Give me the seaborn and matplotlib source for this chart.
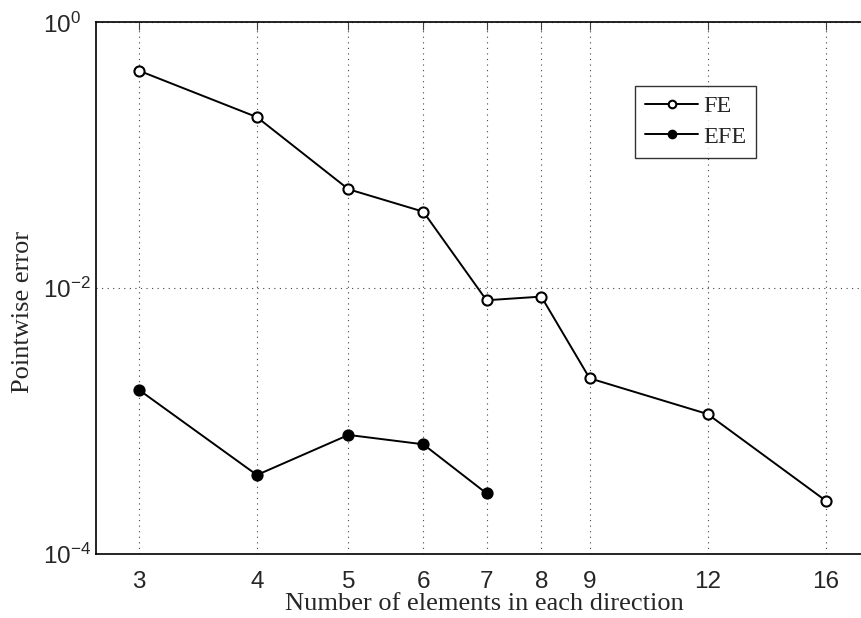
import numpy as np
import pandas as pd
import matplotlib
matplotlib.use("Agg")
import matplotlib.pyplot as plt
from matplotlib.ticker import FixedLocator, FixedFormatter, NullLocator, LogFormatterSciNotation
import seaborn as sns

# data
n_fe = [3, 4, 5, 6, 7, 8, 9, 12, 16]
err_fe = [0.434, 0.194, 0.0556, 0.0377, 0.00812, 0.00865, 0.00210, 0.00113, 0.000252]
n_efe = [3, 4, 5, 6, 7]
err_efe = [0.00172, 0.000393, 0.000787, 0.000669, 0.000286]
xtick_vals = [3, 4, 5, 6, 7, 8, 9, 12, 16]
ytick_vals = [1e-4, 1e-2, 1e0]

sns.set_style("white")
plt.rcParams['font.family'] = ['Liberation Sans', 'DejaVu Sans']
plt.rcParams['mathtext.fontset'] = 'custom'
plt.rcParams['mathtext.rm'] = 'Liberation Sans'
plt.rcParams['mathtext.it'] = 'Liberation Sans:italic'

serif = ['Liberation Serif', 'DejaVu Serif']

fig = plt.figure(figsize=(8.61, 6.18), dpi=100)
ax = fig.add_axes([0.1111, 0.1036, 0.904, 0.860])

df_fe = pd.DataFrame({'n': n_fe, 'err': err_fe})
df_efe = pd.DataFrame({'n': n_efe, 'err': err_efe})

sns.lineplot(data=df_fe, x='n', y='err', ax=ax, color='k', lw=1.4, marker='o',
             markersize=7.3, markerfacecolor='white', markeredgecolor='k',
             markeredgewidth=1.5, label='FE')
sns.lineplot(data=df_efe, x='n', y='err', ax=ax, color='k', lw=1.4, marker='o',
             markersize=7.3, markerfacecolor='k', markeredgecolor='k',
             markeredgewidth=1.5, label='EFE')

ax.set_xscale('log')
ax.set_yscale('log')
ax.set_xlim(2.7, 18)
ax.set_ylim(1e-4, 1e0)

ax.xaxis.set_major_locator(FixedLocator(xtick_vals))
ax.xaxis.set_major_formatter(FixedFormatter([str(v) for v in xtick_vals]))
ax.xaxis.set_minor_locator(NullLocator())
ax.yaxis.set_major_locator(FixedLocator(ytick_vals))
ax.yaxis.set_major_formatter(LogFormatterSciNotation())
ax.yaxis.set_minor_locator(NullLocator())

ax.tick_params(axis='both', which='major', direction='in', length=6, width=0.8,
               top=True, right=True, color='#444444', labelsize=17.5)
ax.tick_params(axis='x', pad=12)
# MATLAB-style: exponent labels share a common left edge
ax.tick_params(axis='y', pad=38)
for lab in ax.get_yticklabels():
    lab.set_horizontalalignment('left')
ax.grid(True, which='major', linestyle=(0, (1, 4)), color='#444444', linewidth=0.8)

for s in ax.spines.values():
    s.set_color('k')
    s.set_linewidth(1.2)

ax.set_xlabel('Number of elements in each direction', fontsize=19, family=serif,
              labelpad=0)
ax.set_ylabel('Pointwise error', fontsize=19, family=serif)
ax.yaxis.set_label_coords(-0.079, 0.455)

leg = ax.legend(loc='upper left', bbox_to_anchor=(0.693, 0.881), borderaxespad=0,
                frameon=True, fancybox=False, handlelength=2.2, handletextpad=0.2,
                borderpad=0.4, labelspacing=0.35, markerscale=0.75,
                prop={'family': serif, 'size': 17.5})
leg.get_frame().set_edgecolor('k')
leg.get_frame().set_linewidth(1.0)

fig.savefig('out.png', dpi=100)
